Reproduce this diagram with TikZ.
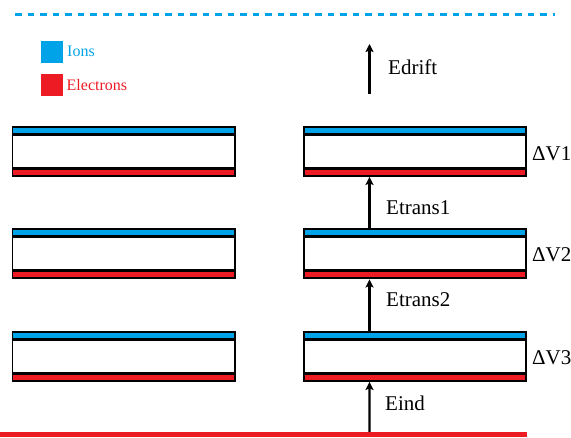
\documentclass[tikz,border=0pt]{standalone}
\usepackage{fontspec}
\setmainfont{Liberation Serif}
\usetikzlibrary{calc,arrows.meta}
\definecolor{ionc}{HTML}{00A2E8}
\definecolor{elc}{HTML}{ED1C24}
\tikzset{
  gemframe/.style={rectangle,fill=black,minimum width=224pt,minimum height=51pt,inner sep=0pt},
  field/.style={line width=2.2pt,-{Stealth[length=8pt,width=8pt,inset=1.5pt]}},
  lbl/.style={anchor=west,inner sep=0pt,font=\fontsize{21}{24}\selectfont},
  leg/.style={anchor=west,inner sep=0pt,font=\fontsize{16}{19}\selectfont},
  legbox/.style={rectangle,minimum width=22pt,minimum height=22pt,inner sep=0pt}
}
\newcommand{\gemfoil}[3]{%
  \node[gemframe] (#1) at (#2,#3) {};
  \fill[ionc] ($(#1.north west)+(2,2)$) rectangle ($(#1.north east)+(-2,7.3)$);
  \fill[white] ($(#1.north west)+(2,10)$) rectangle ($(#1.south east)+(-2,-10)$);
  \fill[elc] ($(#1.south west)+(2,-2.3)$) rectangle ($(#1.south east)+(-2,-7)$);
}
\begin{document}
\begin{tikzpicture}[x=1pt,y=-1pt]
\useasboundingbox (0,0) rectangle (571,437);
% drift electrode (dashed)
\coordinate (dw) at (15,14.3);
\coordinate (de) at (555,14.3);
\draw[ionc,line width=3pt,dash pattern=on 6.5pt off 6pt] (dw) -- (de);
% legend
\node[legbox,fill=ionc] (lion) at (52,51.7) {};
\node[leg,text=ionc] (tion) at (67,51.7) {Ions};
\node[legbox,fill=elc] (lel) at (52,84.6) {};
\node[leg,text=elc] (tel) at (66.5,84.6) {Electrons};
% GEM foils
\gemfoil{l1}{123.5}{151.2}
\gemfoil{l2}{123.5}{253.7}
\gemfoil{l3}{123.5}{356.2}
\gemfoil{r1}{415}{151.2}
\gemfoil{r2}{415}{253.7}
\gemfoil{r3}{415}{356.2}
% voltage labels
\node[lbl] (v1) at (532,153.5) {ΔV1};
\node[lbl] (v2) at (532,255) {ΔV2};
\node[lbl] (v3) at (532,357.5) {ΔV3};
% readout plane
\coordinate (bw) at (0,434.3);
\coordinate (be) at (527,434.3);
\draw[elc,line width=5pt] (bw) -- (be);
% fields
\coordinate (dfb) at (369.5,94);
\coordinate (dft) at (369.5,44);
\draw[field] (dfb) -- (dft);
\node[lbl] (tdrift) at (388,67.5) {Edrift};
\draw[field] ([xshift=-45.5pt]r2.north) -- ([xshift=-45.5pt]r1.south);
\node[lbl] (tt1) at (386,208) {Etrans1};
\draw[field] ([xshift=-45.5pt]r3.north) -- ([xshift=-45.5pt]r2.south);
\node[lbl] (tt2) at (386,299.5) {Etrans2};
\draw[field] ($(bw)!369.5/527!(be)+(0,-2.5)$) -- ([xshift=-45.5pt]r3.south);
\node[lbl] (tind) at (385,403) {Eind};
\end{tikzpicture}
\end{document}
